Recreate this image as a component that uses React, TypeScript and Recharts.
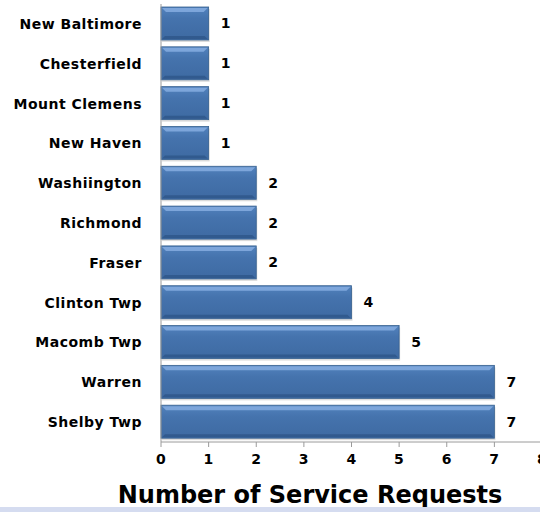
import { BarChart, Bar, XAxis, YAxis, LabelList } from "recharts";

const cities = [
  "New Baltimore",
  "Chesterfield",
  "Mount Clemens",
  "New Haven",
  "Washiington",
  "Richmond",
  "Fraser",
  "Clinton Twp",
  "Macomb Twp",
  "Warren",
  "Shelby Twp",
];
const requests = [1, 1, 1, 1, 2, 2, 2, 4, 5, 7, 7];
const xTicks = [0, 1, 2, 3, 4, 5, 6, 7, 8];

const data = cities.map((city, i) => ({ city, requests: requests[i] }));

const FONT = "'DejaVu Sans', Verdana, sans-serif";
const labelStyle = { fill: "#000", fontSize: 14, fontWeight: "bold", fontFamily: FONT, letterSpacing: 0.5 };

// bevelled blue bar, roughly like the office 3D look
const BevelBar = (props: any) => {
  const { x, y, width, height } = props;
  if (!width || width <= 0) return null;
  return (
    <g>
      <rect x={x + 1} y={y + 2} width={width} height={height} fill="#bdbdbd" opacity={0.55} />
      <rect x={x} y={y} width={width} height={height} fill="url(#barGrad)" stroke="#37618f" strokeWidth={0.8} />
      <polygon
        points={`${x + 1},${y + 1} ${x + width - 1},${y + 1} ${x + width - 5},${y + 5} ${x + 5},${y + 5}`}
        fill="#86ade0"
        opacity={0.85}
      />
      <polygon
        points={`${x + 1},${y + height - 1} ${x + width - 1},${y + height - 1} ${x + width - 4},${y + height - 4} ${x + 4},${y + height - 4}`}
        fill="#2c5384"
        opacity={0.7}
      />
    </g>
  );
};

export default function App() {
  return (
    <div style={{ position: "absolute", left: 0, top: 0, width: 540, height: 512, overflow: "hidden", background: "#fff" }}>
      <BarChart
        width={560}
        height={480}
        data={data}
        layout="vertical"
        margin={{ top: 4, right: 18, bottom: 8, left: 0 }}
        barSize={33}
      >
        <defs>
          <linearGradient id="barGrad" x1="0" y1="0" x2="0" y2="1">
            <stop offset="0%" stopColor="#5282bd" />
            <stop offset="35%" stopColor="#4573ad" />
            <stop offset="100%" stopColor="#3e6aa2" />
          </linearGradient>
        </defs>
        <XAxis
          type="number"
          domain={[0, 8]}
          ticks={xTicks}
          interval={0}
          height={30}
          axisLine={{ stroke: "#9a9a9a" }}
          tickLine={{ stroke: "#9a9a9a" }}
          tickSize={5}
          tickMargin={7}
          tick={{ ...labelStyle }}
        />
        <YAxis
          type="category"
          dataKey="city"
          width={161}
          axisLine={{ stroke: "#9a9a9a" }}
          tickLine={false}
          tickSize={0}
          tickMargin={19}
          interval={0}
          tick={{ ...labelStyle }}
        />
        <Bar dataKey="requests" shape={<BevelBar />} isAnimationActive={false}>
          <LabelList dataKey="requests" position="right" offset={12} style={labelStyle} />
        </Bar>
      </BarChart>
      <div
        style={{
          position: "absolute",
          left: 0,
          top: 481,
          width: 620,
          textAlign: "center",
          fontFamily: FONT,
          fontWeight: "bold",
          fontSize: 24,
          lineHeight: "28px",
          color: "#000",
        }}
      >
        Number of Service Requests
      </div>
      <div style={{ position: "absolute", left: 0, top: 507, width: 540, height: 5, background: "#d5dcf0" }} />
    </div>
  );
}
